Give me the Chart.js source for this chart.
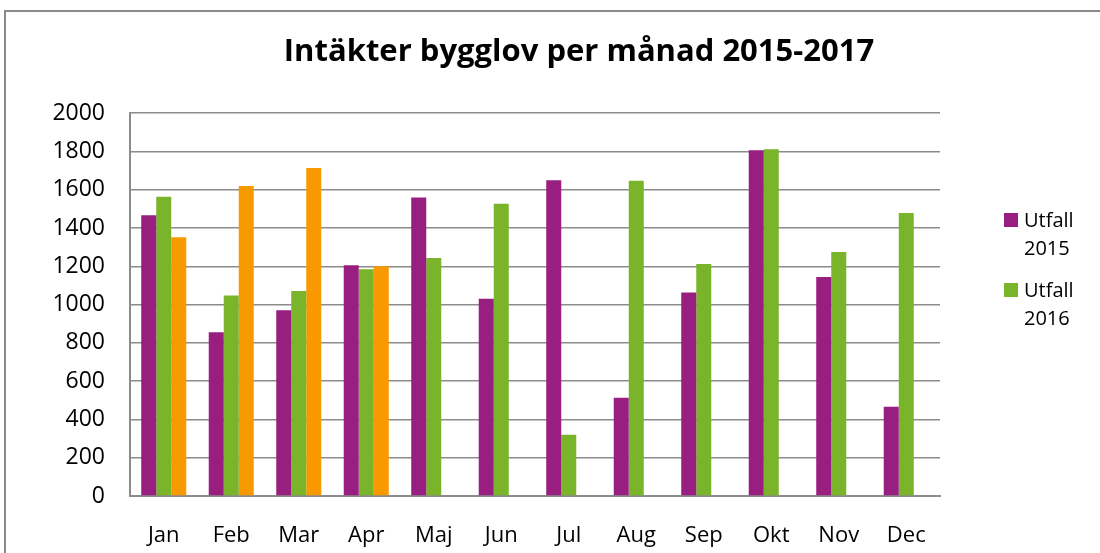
<!DOCTYPE html>
<html>
<head>
<meta charset="utf-8">
<script src="https://cdn.jsdelivr.net/npm/chart.js@4"></script>
<style>
  html, body { margin: 0; padding: 0; background: #fff; overflow: hidden; width: 1100px; height: 553px; }
  .frame { position: absolute; left: 4px; top: 10px; width: 1200px; height: 600px;
           border-left: 2px solid #8a8a8a; border-top: 2px solid #8a8a8a; }
  .wrap { position: absolute; left: 6px; top: 12px; width: 1146px; height: 541px; }
  .legend { position: absolute; left: 1004px; top: 206px; font-family: "Open Sans", sans-serif;
            font-size: 20px; color: #000; line-height: 28px; }
  .item { position: relative; padding-left: 20px; margin-bottom: 14px; }
  .item span.box { position: absolute; left: 0; top: 7px; width: 14px; height: 14px; }
</style>
</head>
<body>
<div class="frame"></div>
<div class="wrap"><canvas id="myChart"></canvas></div>
<div class="legend" id="legend"></div>
<script>
// Data
const months = ['Jan', 'Feb', 'Mar', 'Apr', 'Maj', 'Jun', 'Jul', 'Aug', 'Sep', 'Okt', 'Nov', 'Dec'];
const utfall2015 = [1467, 856, 970, 1206, 1560, 1030, 1650, 513, 1063, 1807, 1144, 466];
const utfall2016 = [1563, 1048, 1071, 1185, 1243, 1527, 320, 1647, 1212, 1812, 1275, 1478];
const utfall2017 = [1352, 1620, 1714, 1201, null, null, null, null, null, null, null, null];
const yTicks = { min: 0, max: 2000, step: 200 };

const purple = '#981e80';
const green = '#7ab42b';
const orange = '#f99900';
const gridColor = '#8c8c8c';

// legend, only 2015 and 2016 like the original
const legendItems = [['Utfall', '2015', purple], ['Utfall', '2016', green]];
document.getElementById('legend').innerHTML = legendItems.map(it =>
  '<div class="item"><span class="box" style="background:' + it[2] + '"></span>' + it[0] + '<br>' + it[1] + '</div>'
).join('');

const ctx = document.getElementById('myChart');
new Chart(ctx, {
  type: 'bar',
  data: {
    labels: months,
    datasets: [
      { label: 'Utfall 2015', data: utfall2015, backgroundColor: purple },
      { label: 'Utfall 2016', data: utfall2016, backgroundColor: green },
      { label: 'Utfall 2017', data: utfall2017, backgroundColor: orange }
    ]
  },
  options: {
    responsive: true,
    maintainAspectRatio: false,
    animation: false,
    datasets: {
      bar: { categoryPercentage: 0.667, barPercentage: 1.0 }
    },
    layout: { padding: { left: 0, right: 0, top: 0, bottom: 0 } },
    plugins: {
      legend: { display: false },
      tooltip: { enabled: false },
      title: {
        display: true,
        text: 'Intäkter bygglov per månad 2015-2017',
        color: '#000',
        font: { family: 'Open Sans', size: 31, weight: 'bold' },
        padding: { top: 22, bottom: 42 }
      }
    },
    scales: {
      x: {
        grid: { display: false, drawTicks: false },
        border: { display: true, color: gridColor, width: 2 },
        ticks: { color: '#000', padding: 27, font: { family: 'Open Sans', size: 22 } },
        afterFit: s => { s.height = 57; }
      },
      y: {
        min: yTicks.min,
        max: yTicks.max,
        grid: { color: gridColor, lineWidth: 1.5, drawTicks: false },
        border: { display: true, color: gridColor, width: 2 },
        ticks: {
          stepSize: yTicks.step,
          color: '#000',
          padding: 25,
          font: { family: 'Open Sans', size: 23 },
          callback: v => String(v)
        },
        afterFit: s => { s.width = 124; }
      },
      // empty space on the right where the legend sits
      pad: {
        type: 'linear',
        position: 'right',
        display: true,
        grid: { display: false },
        border: { display: false },
        ticks: { display: false },
        afterFit: s => { s.width = 212; }
      }
    }
  }
});
</script>
</body>
</html>
